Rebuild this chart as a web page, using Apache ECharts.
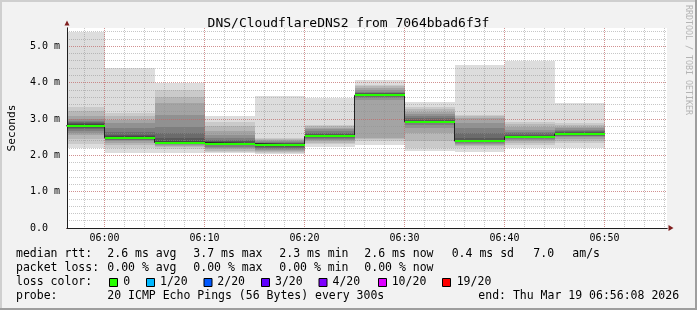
<!DOCTYPE html>
<html><head><meta charset="utf-8">
<script src="https://cdn.jsdelivr.net/npm/echarts@6/dist/echarts.min.js"></script>
<style>html,body{margin:0;padding:0;background:#f2f2f2;}#chart{width:697px;height:310px;}</style>
</head><body><div id="chart"></div>
<script>
// ---------------- data ----------------
const chartTitle = 'DNS/CloudflareDNS2 from 7064bbad6f3f';
const yAxisName = 'Seconds';
const watermark = 'RRDTOOL / TOBI OETIKER';
const viewStart = '05:56:15';
const viewEnd = '06:56:15';
const slotStarts = ['05:55','06:00','06:05','06:10','06:15','06:20','06:25','06:30','06:35','06:40','06:45'];
const slotLengthMin = 5;
// median rtt per 5-minute slot (ms)
const medianRtt = [2.81, 2.48, 2.35, 2.32, 2.28, 2.52, 3.65, 2.92, 2.39, 2.51, 2.585];
// 20 sorted ping rtts per slot (ms)
const pings0555 = [2.19,2.30,2.45,2.55,2.62,2.67,2.72,2.76,2.79,2.80,2.82,2.85,2.88,2.91,2.95,3.00,3.08,3.22,3.32,5.38];
const pings0600 = [2.07,2.20,2.28,2.34,2.38,2.41,2.43,2.45,2.46,2.47,2.49,2.52,2.57,2.64,2.75,2.88,2.97,3.09,3.16,4.41];
const pings0605 = [2.07,2.18,2.22,2.26,2.29,2.31,2.32,2.33,2.34,2.35,2.36,2.40,2.47,2.62,2.79,3.10,3.45,3.59,3.79,3.98];
const pings0610 = [2.05,2.09,2.13,2.17,2.21,2.24,2.27,2.29,2.31,2.32,2.33,2.35,2.38,2.42,2.48,2.56,2.66,2.80,2.92,3.08];
const pings0615 = [2.03,2.06,2.09,2.12,2.15,2.18,2.21,2.24,2.26,2.27,2.29,2.31,2.33,2.35,2.37,2.40,2.42,2.44,2.47,3.63];
const pings0620 = [2.24,2.31,2.35,2.39,2.42,2.45,2.47,2.49,2.51,2.52,2.53,2.55,2.58,2.62,2.67,2.72,2.75,2.80,2.83,3.58];
const pings0625 = [2.27,2.38,2.45,2.48,3.52,3.58,3.61,3.63,3.64,3.65,3.66,3.68,3.70,3.72,3.75,3.80,3.84,3.90,3.94,4.07];
const pings0630 = [2.11,2.20,2.40,2.60,2.75,2.84,2.88,2.90,2.91,2.92,2.93,2.95,2.97,3.02,3.08,3.14,3.20,3.26,3.32,3.46];
const pings0635 = [2.10,2.19,2.25,2.29,2.32,2.34,2.36,2.37,2.38,2.39,2.40,2.43,2.48,2.60,2.75,2.90,3.02,3.07,3.11,4.48];
const pings0640 = [2.20,2.29,2.35,2.40,2.43,2.46,2.48,2.49,2.50,2.51,2.52,2.54,2.57,2.61,2.64,2.70,2.78,2.85,2.92,4.59];
const pings0645 = [2.19,2.33,2.40,2.45,2.49,2.52,2.54,2.56,2.57,2.58,2.59,2.61,2.63,2.66,2.70,2.74,2.77,2.82,2.88,3.44];
const pingSets = [pings0555,pings0600,pings0605,pings0610,pings0615,pings0620,pings0625,pings0630,pings0635,pings0640,pings0645];
const yMaxMs = 5.5;
// legend texts
const rttStats = ['2.6 ms avg','3.7 ms max','2.3 ms min','2.6 ms now','0.4 ms sd','7.0','am/s'];
const lossStats = ['0.00 % avg','0.00 % max','0.00 % min','0.00 % now'];
const lossLabels = ['0','1/20','2/20','3/20','4/20','10/20','19/20'];
const lossColors = ['#26ff00','#00b8ff','#0059ff','#5e00ff','#7e00ff','#dd00ff','#ff0000'];
const probeText = '20 ICMP Echo Pings (56 Bytes) every 300s';
const endText = 'end: Thu Mar 19 06:56:08 2026';

// ---------------- helpers ----------------
function toMin(t){const p=t.split(':').map(Number);return p[0]*60+p[1]+(p[2]||0)/60;}
function fmtMin(v){const h=Math.floor(v/60),m=Math.round(v-h*60);return String(h).padStart(2,'0')+':'+String(m).padStart(2,'0');}
const xMin = toMin(viewStart), xMax = toMin(viewEnd);
const FONT = '"DejaVu Sans Mono", monospace';

const smokeData = slotStarts.map((s,i)=>{const a=toMin(s);return [a,a+slotLengthMin].concat(pingSets[i]);});
const medianData = slotStarts.map((s,i)=>{const a=toMin(s);return [a,a+slotLengthMin,medianRtt[i]];});
const stepData = slotStarts.map((s,i)=>[toMin(s),medianRtt[i]]);
stepData.push([toMin(slotStarts[slotStarts.length-1])+slotLengthMin, medianRtt[medianRtt.length-1]]);

function bandColor(k){const c=Math.floor(190/10*(10-(k+1)))+50;return 'rgb('+c+','+c+','+c+')';}

function renderSmoke(params, api){
  const cs = params.coordSys;
  const s = api.value(0), e = api.value(1);
  const children = [];
  for(let k=0;k<10;k++){
    const lo = api.value(2+k), hi = api.value(2+19-k);
    const p1 = api.coord([s,hi]), p2 = api.coord([e,lo]);
    const x1=Math.round(p1[0]), x2=Math.round(p2[0]), y1=Math.round(p1[1]), y2=Math.round(p2[1]);
    const r = echarts.graphic.clipRectByRect({x:x1,y:y1,width:x2-x1,height:Math.max(1,y2-y1)},{x:cs.x,y:cs.y,width:cs.width,height:cs.height});
    if(r) children.push({type:'rect',shape:r,style:{fill:bandColor(k)}});
  }
  return {type:'group',children};
}
function renderMedian(params, api){
  const cs = params.coordSys;
  const p1 = api.coord([api.value(0),api.value(2)]), p2 = api.coord([api.value(1),api.value(2)]);
  const y = Math.round(p1[1]-1);
  const r = echarts.graphic.clipRectByRect({x:Math.round(p1[0]),y:y,width:Math.round(p2[0])-Math.round(p1[0]),height:2},{x:cs.x,y:cs.y,width:cs.width,height:cs.height});
  if(!r) return null;
  return {type:'rect',shape:r,style:{fill:lossColors[0]}};
}

const minorGrid = {show:true,showMinLine:false,showMaxLine:false,lineStyle:{color:'rgba(143,143,143,0.5)',width:1,type:[1,1]}};
const majorGrid = {show:true,showMinLine:false,showMaxLine:false,lineStyle:{color:'rgba(222,79,79,0.45)',width:1,type:[1,1]}};
const arrowLine = {show:true,symbol:['none','triangle'],lineStyle:{color:'#801f1f',width:1}};

// legend graphics
const gfx = [];
function txt(x,y,t){gfx.push({type:'text',x:x,y:y,z:100,style:{text:t,font:'11.5px '+FONT,fill:'#000',align:'left',verticalAlign:'middle'}});}
const rows=[254.5,268.5,282.5,296.5];
txt(16,rows[0],'median rtt:');
const rttX=[107.3,193.3,279.3,364.3,451.7,533.3,572.3];
rttStats.forEach((t,i)=>txt(rttX[i],rows[0],t));
txt(16,rows[1],'packet loss:');
const lossX=[107.3,193.3,279.3,364.3];
lossStats.forEach((t,i)=>txt(lossX[i],rows[1],t));
txt(16,rows[2],'loss color:');
const boxX=[109,146,203.5,261,318.5,378,442];
const lblX=[123.3,160,217.3,275,332.5,391.7,456.7];
lossLabels.forEach((t,i)=>{
  gfx.push({type:'rect',z:100,shape:{x:boxX[i]+0.5,y:278.5,width:8,height:8},style:{fill:lossColors[i],stroke:'#000',lineWidth:1}});
  txt(lblX[i],rows[2],t);
});
txt(16,rows[3],'probe:');
txt(107.3,rows[3],probeText);
txt(478.3,rows[3],endText);
// frame
gfx.push({type:'rect',z:100,shape:{x:0,y:0,width:697,height:2},style:{fill:'#cfcfcf'}});
gfx.push({type:'rect',z:100,shape:{x:0,y:0,width:2,height:310},style:{fill:'#cfcfcf'}});
gfx.push({type:'rect',z:100,shape:{x:0,y:308,width:697,height:2},style:{fill:'#9e9e9e'}});
gfx.push({type:'rect',z:100,shape:{x:695,y:0,width:2,height:310},style:{fill:'#9e9e9e'}});
gfx.push({type:'text',x:688,y:5,rotation:-Math.PI/2,z:100,style:{text:watermark,font:'8.3px '+FONT,fill:'#b4b4b4',align:'left',verticalAlign:'middle'}});

const chart = echarts.init(document.getElementById('chart'),null,{renderer:'canvas'});
chart.setOption({
  animation:false,
  backgroundColor:'#f2f2f2',
  title:{text:chartTitle,left:'center',top:12,textStyle:{fontFamily:FONT,fontSize:13,fontWeight:'normal',color:'#000'}},
  grid:{left:67,top:28,width:600,height:200,show:true,backgroundColor:'#ffffff',borderWidth:0,containLabel:false,outerBoundsMode:'none'},
  xAxis:[
    {type:'value',position:'bottom',offset:0,min:xMin,max:xMax,minInterval:2,maxInterval:2,z:3,
     axisLine:Object.assign({},arrowLine,{onZero:false,symbolSize:[6,5],symbolOffset:[0,4]}),
     axisTick:{show:false},axisLabel:{show:false},splitLine:minorGrid},
    {type:'value',position:'bottom',offset:0,min:xMin,max:xMax,minInterval:10,maxInterval:10,z:4,
     axisLine:{show:true,onZero:false,lineStyle:{color:'#1f1f1f',width:1}},axisTick:{show:false},
     axisLabel:{show:true,margin:5,color:'#000',fontFamily:FONT,fontSize:10,showMinLabel:false,showMaxLabel:false,
       formatter:v=>Math.abs(v/10-Math.round(v/10))<1e-6?fmtMin(v):''},
     splitLine:majorGrid}
  ],
  yAxis:[
    {type:'value',min:0,max:yMaxMs,interval:0.2,position:'left',offset:0,z:3,
     axisLine:Object.assign({},arrowLine,{onZero:false,symbolSize:[5,5],symbolOffset:[0,5]}),
     axisTick:{show:false},axisLabel:{show:false},splitLine:minorGrid},
    {type:'value',min:0,max:yMaxMs,interval:1,position:'left',offset:0,z:4,
     name:yAxisName,nameLocation:'middle',nameGap:49,nameRotate:90,
     nameTextStyle:{fontFamily:FONT,fontSize:11.2,color:'#000'},
     axisLine:{show:true,onZero:false,lineStyle:{color:'#1f1f1f',width:1}},axisTick:{show:false},
     axisLabel:{show:true,margin:37,align:'left',color:'#000',fontFamily:FONT,fontSize:10,showMaxLabel:false,
       formatter:v=>Math.abs(v-Math.round(v))>1e-6?'':(v===0?'0.0':v.toFixed(1)+' m')},
     splitLine:majorGrid}
  ],
  series:[
    {type:'custom',name:'smoke',xAxisIndex:0,yAxisIndex:0,z:1,silent:true,renderItem:renderSmoke,data:smokeData},
    {type:'line',name:'median step',xAxisIndex:0,yAxisIndex:0,z:6,step:'end',symbol:'none',silent:true,
     lineStyle:{color:'#202020',width:1},data:stepData},
    {type:'custom',name:'median',xAxisIndex:0,yAxisIndex:0,z:7,silent:true,renderItem:renderMedian,data:medianData}
  ],
  graphic:gfx
});
</script></body></html>
